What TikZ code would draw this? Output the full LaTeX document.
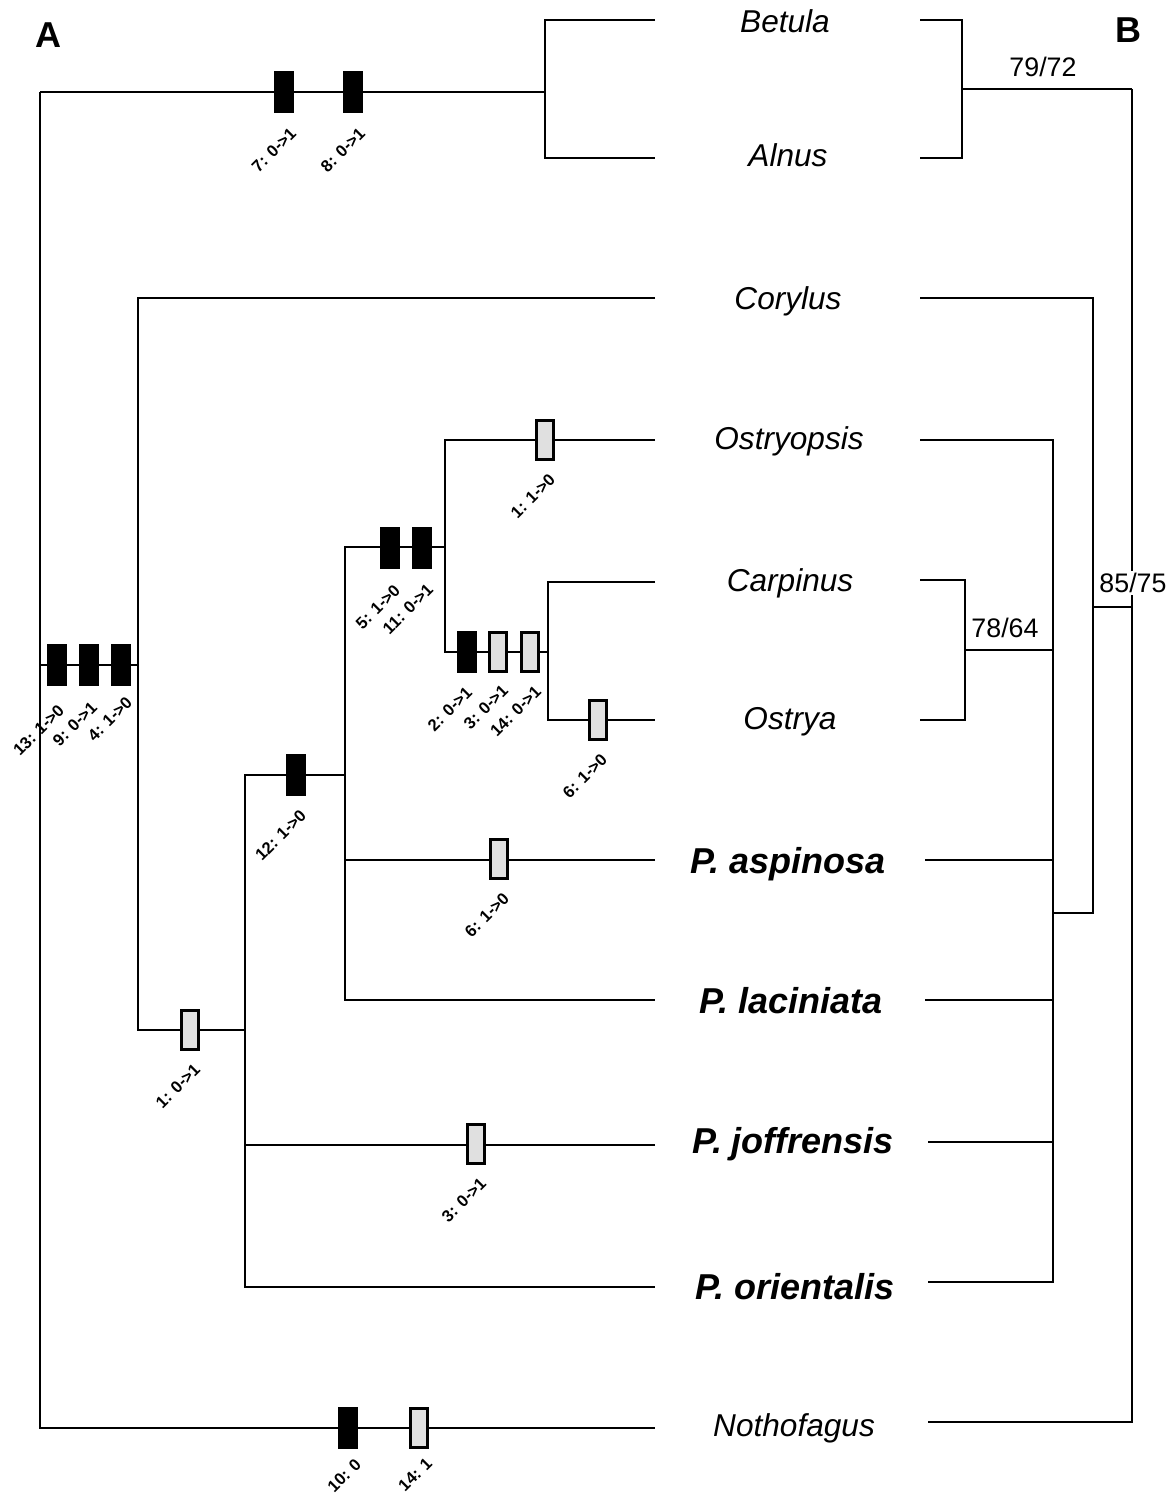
\documentclass[tikz,border=0pt]{standalone}
\usepackage{fontspec}
\setmainfont{Liberation Sans}
\begin{document}
\begin{tikzpicture}[x=0.5pt,y=-0.5pt,line width=1pt,
  blk/.style={rectangle,fill=black,draw=none,minimum width=10pt,minimum height=21pt,inner sep=0pt},
  gry/.style={rectangle,fill=black!12,draw=black,line width=1.4pt,minimum width=8.6pt,minimum height=19.6pt,inner sep=0pt},
  lab/.style={anchor=north east,rotate=45,font=\fontsize{8.3pt}{9pt}\selectfont\bfseries,inner sep=0pt},
  tx/.style={anchor=base,font=\fontsize{15.8pt}{18pt}\selectfont\itshape,inner sep=0pt},
  txb/.style={anchor=base,font=\fontsize{18pt}{20pt}\selectfont\bfseries\itshape,inner sep=0pt},
  sup/.style={font=\fontsize{13.4pt}{15pt}\selectfont,inner sep=1pt},
  panel/.style={font=\fontsize{18pt}{20pt}\selectfont\bfseries,inner sep=0pt}]
\useasboundingbox (0,0) rectangle (1168,1493);

% ---------- Panel A coordinates ----------
\coordinate (n0) at (40,92);
\coordinate (nR) at (40,665);
\coordinate (nB) at (40,1428);
\coordinate (n1) at (545,92);
\coordinate (n2) at (138,665);
\coordinate (n3) at (245,1030);
\coordinate (n4) at (345,775);
\coordinate (n5) at (445,547);
\coordinate (n6) at (548,652);
\coordinate (tBet) at (655,20);
\coordinate (tAln) at (655,158);
\coordinate (tCor) at (655,298);
\coordinate (tOsp) at (655,440);
\coordinate (tCar) at (655,582);
\coordinate (tOst) at (655,720);
\coordinate (tAsp) at (655,860);
\coordinate (tLac) at (655,1000);
\coordinate (tJof) at (655,1145);
\coordinate (tOri) at (655,1287);
\coordinate (tNot) at (655,1428);

% ---------- Panel A lines ----------
\draw (n0) -- (nB) -- (tNot);
\draw (n0) -- (n1);
\draw (tBet) -| (n1) |- (tAln);
\draw (nR) -- (n2);
\draw (tCor) -| (n2) |- (n3);
\draw (n4) -| (n3) |- (tOri);
\draw (tJof) -| (n3);
\draw (n5) -| (n4) |- (tLac);
\draw (tAsp) -| (n4);
\draw (tOsp) -| (n5) |- (n6);
\draw (tCar) -| (n6) |- (tOst);

% ---------- Markers ----------
\node[blk] (m7) at (284,92) {};
\node[blk] (m8) at (353,92) {};
\node[blk] (m13) at (57,665) {};
\node[blk] (m9) at (89,665) {};
\node[blk] (m4) at (121,665) {};
\node[gry] (m1a) at (190,1030) {};
\node[blk] (m12) at (296,775) {};
\node[blk] (m5) at (390,548) {};
\node[blk] (m11) at (422,548) {};
\node[gry] (m1b) at (545,440) {};
\node[blk] (m2) at (467,652) {};
\node[gry] (m3a) at (498,652) {};
\node[gry] (m14a) at (530,652) {};
\node[gry] (m6a) at (598,720) {};
\node[gry] (m6b) at (499,859) {};
\node[gry] (m3b) at (476,1144) {};
\node[blk] (m10) at (348,1428) {};
\node[gry] (m14b) at (419,1428) {};

% ---------- Character labels ----------
\node[lab] (l7) at ([xshift=2.5pt,yshift=-5.5pt]m7.south) {7: 0->1};
\node[lab] (l8) at ([xshift=2.5pt,yshift=-5.5pt]m8.south) {8: 0->1};
\node[lab] (l13) at ([xshift=0pt,yshift=-7.5pt]m13.south) {13: 1->0};
\node[lab] (l9) at ([xshift=0.5pt,yshift=-6pt]m9.south) {9: 0->1};
\node[lab] (l4) at ([xshift=2pt,yshift=-3.5pt]m4.south) {4: 1->0};
\node[lab] (l1a) at ([xshift=1.5pt,yshift=-5pt]m1a.south) {1: 0->1};
\node[lab] (l12) at ([xshift=1.5pt,yshift=-5pt]m12.south) {12: 1->0};
\node[lab] (l5) at ([xshift=1.5pt,yshift=-6pt]m5.south) {5: 1->0};
\node[lab] (l11) at ([xshift=2pt,yshift=-5.5pt]m11.south) {11: 0->1};
\node[lab] (l1b) at ([xshift=1.5pt,yshift=-5pt]m1b.south) {1: 1->0};
\node[lab] (l2) at ([xshift=-1pt,yshift=-5pt]m2.south) {2: 0->1};
\node[lab] (l3a) at ([xshift=1.5pt,yshift=-4.5pt]m3a.south) {3: 0->1};
\node[lab] (l14a) at ([xshift=2pt,yshift=-5pt]m14a.south) {14: 0->1};
\node[lab] (l6a) at ([xshift=1pt,yshift=-5pt]m6a.south) {6: 1->0};
\node[lab] (l6b) at ([xshift=1.5pt,yshift=-5pt]m6b.south) {6: 1->0};
\node[lab] (l3b) at ([xshift=1.5pt,yshift=-5pt]m3b.south) {3: 0->1};
\node[lab] (l10) at ([xshift=3pt,yshift=-3pt]m10.south) {10: 0};
\node[lab] (l14b) at ([xshift=3pt,yshift=-3pt]m14b.south) {14: 1};

% ---------- Taxa ----------
\node[tx] (Betula) at (785,33) {Betula};
\node[tx] (Alnus) at (788,166) {Alnus};
\node[tx] (Corylus) at (788,309) {Corylus};
\node[tx] (Ostryopsis) at (789,449) {Ostryopsis};
\node[tx] (Carpinus) at (790,591) {Carpinus};
\node[tx] (Ostrya) at (790,729) {Ostrya};
\node[txb] (Pasp) at (788,873) {P. aspinosa};
\node[txb] (Plac) at (791,1013) {P. laciniata};
\node[txb] (Pjof) at (793,1153) {P. joffrensis};
\node[txb] (Pori) at (795,1299) {P. orientalis};
\node[tx] (Notho) at (794,1436) {Nothofagus};

% ---------- Panel B coordinates ----------
\coordinate (bBet) at (920,20);
\coordinate (bAln) at (920,158);
\coordinate (q1) at (962,89);
\coordinate (q0) at (1132,89);
\coordinate (bNot) at (928,1422);
\coordinate (bCor) at (920,298);
\coordinate (q2) at (1093,607);
\coordinate (qj) at (1132,607);
\coordinate (q3) at (1053,913);
\coordinate (bOsp) at (920,440);
\coordinate (bCar) at (920,580);
\coordinate (bOst) at (920,720);
\coordinate (q4) at (965,650);
\coordinate (q4e) at (1053,650);
\coordinate (bAsp) at (925,860);
\coordinate (bLac) at (925,1000);
\coordinate (bJof) at (928,1142);
\coordinate (bOri) at (928,1282);

% ---------- Panel B lines ----------
\draw (bBet) -| (q1) |- (bAln);
\draw (q1) -- (q0);
\draw (q0) |- (bNot);
\draw (bCor) -| (q2) |- (q3);
\draw (q2) -- (qj);
\draw (bOsp) -| (q3) |- (bOri);
\draw (bAsp) -| (q3);
\draw (bLac) -| (q3);
\draw (bJof) -| (q3);
\draw (bCar) -| (q4) |- (bOst);
\draw (q4) -- (q4e);

% ---------- Support values ----------
\node[sup] (s1) at (1043,67) {79/72};
\node[sup] (s2) at (1005,628) {78/64};
\node[sup,fill=white] (s3) at (1133,583) {85/75};

% ---------- Panel letters ----------
\node[panel] (PA) at (48,35) {A};
\node[panel] (PB) at (1128,30) {B};
\end{tikzpicture}
\end{document}
